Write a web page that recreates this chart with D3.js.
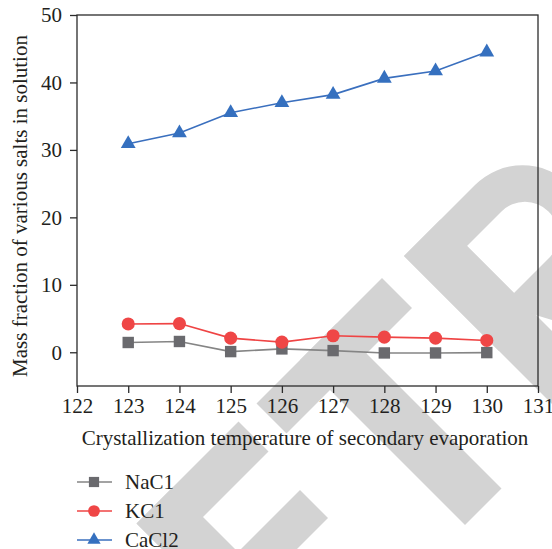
<!DOCTYPE html>
<html>
<head>
<meta charset="utf-8" />
<script src="https://d3js.org/d3.v7.min.js"></script>
<style>
  body { margin: 0; background: #fff; }
</style>
</head>
<body>
<div id="chart"></div>
<script>
// data
var temps = [123, 124, 125, 126, 127, 128, 129, 130];
var nacl = [1.45, 1.6, 0.1, 0.5, 0.25, -0.1, -0.1, -0.05];
var kcl = [4.2, 4.25, 2.1, 1.5, 2.45, 2.25, 2.1, 1.75];
var cacl2 = [30.9, 32.5, 35.5, 37.0, 38.2, 40.6, 41.7, 44.5];
var seriesNames = ["NaC1", "KC1", "CaCl2"];
var xTicks = [122, 123, 124, 125, 126, 127, 128, 129, 130, 131];
var yTicks = [0, 10, 20, 30, 40, 50];

var W = 552, H = 549;
var margin = {top: 15, right: 14, bottom: 163, left: 77};
var serif = "Liberation Serif";
var textColor = "#231f20";

var svg = d3.select("#chart").append("svg")
  .attr("width", W).attr("height", H);

// watermark letters (E T R), drawn in a rotated letter frame
var wm = svg.append("g")
  .attr("transform", "matrix(0.5,-0.5,0.5,0.5,0,0)")
  .attr("fill", "#d3d3d3");
var rects = [
  [-387, 660, 73, 330], [-387, 660, 204, 60], [-387, 790, 197, 56], [-387, 930, 204, 60], // E
  [-147, 660, 251, 60], [-60, 660, 73, 330],                                             // T
  [148, 660, 73, 330]                                                                     // R stem
];
wm.selectAll("rect").data(rects).enter().append("rect")
  .attr("x", function(d) { return d[0]; })
  .attr("y", function(d) { return d[1]; })
  .attr("width", function(d) { return d[2]; })
  .attr("height", function(d) { return d[3]; });
wm.append("path")
  .attr("fill-rule", "evenodd")
  .attr("d", "M148,660 H290 A95,95 0 0 1 290,850 H148 Z M221,713 H290 A47,47 0 0 1 290,807 H221 Z");
wm.append("path")
  .attr("d", "M215,840 L300,840 L380,990 L295,990 Z");

var x = d3.scaleLinear().domain([122, 131]).range([margin.left, W - margin.right]);
var y = d3.scaleLinear().domain([-5, 50]).range([H - margin.bottom, margin.top]);

var axisColor = "#2b2b2b";

// frame
svg.append("rect")
  .attr("x", x(122)).attr("y", y(50))
  .attr("width", x(131) - x(122)).attr("height", y(-5) - y(50))
  .attr("fill", "none").attr("stroke", axisColor).attr("stroke-width", 1.3);

// x axis: major + minor ticks
var xAxis = svg.append("g").attr("transform", "translate(0," + y(-5) + ")");
xAxis.call(d3.axisBottom(x).tickValues(d3.range(122.5, 131, 1)).tickSize(4).tickFormat(""));
xAxis.call(d3.axisBottom(x).tickValues(xTicks).tickSize(7).tickPadding(5).tickFormat(d3.format("d")));
xAxis.attr("font-family", serif).attr("font-size", 21);
xAxis.selectAll(".domain").remove();
xAxis.selectAll("line").attr("stroke", axisColor).attr("stroke-width", 1.3);
xAxis.selectAll("text").attr("fill", textColor);

// y axis
var yAxis = svg.append("g").attr("transform", "translate(" + x(122) + ",0)");
yAxis.call(d3.axisLeft(y).tickValues([-5, 5, 15, 25, 35, 45]).tickSize(4).tickFormat(""));
yAxis.call(d3.axisLeft(y).tickValues(yTicks).tickSize(7).tickPadding(8).tickFormat(d3.format("d")));
yAxis.attr("font-family", serif).attr("font-size", 21);
yAxis.selectAll(".domain").remove();
yAxis.selectAll("line").attr("stroke", axisColor).attr("stroke-width", 1.3);
yAxis.selectAll("text").attr("fill", textColor);

// axis titles
svg.append("text")
  .attr("x", 305).attr("y", 445)
  .attr("text-anchor", "middle")
  .attr("font-family", serif).attr("font-size", 21).attr("fill", textColor)
  .text("Crystallization temperature of secondary evaporation");
svg.append("text")
  .attr("transform", "translate(27,206) rotate(-90)")
  .attr("text-anchor", "middle")
  .attr("font-family", serif).attr("font-size", 21).attr("fill", textColor)
  .text("Mass fraction of various salts in solution");

var series = [
  {name: seriesNames[0], values: nacl, line: "#858585", fill: "#6a6a6e", shape: d3.symbolSquare, size: 130},
  {name: seriesNames[1], values: kcl, line: "#ef4444", fill: "#ef4646", shape: d3.symbolCircle, size: 135},
  {name: seriesNames[2], values: cacl2, line: "#3a6fbe", fill: "#3570bf", shape: d3.symbolTriangle, size: 95}
];

var line = d3.line()
  .x(function(d, i) { return x(temps[i]); })
  .y(function(d) { return y(d); });

series.forEach(function(s) {
  svg.append("path")
    .attr("d", line(s.values))
    .attr("fill", "none")
    .attr("stroke", s.line)
    .attr("stroke-width", 1.6);
  svg.append("g").selectAll("path")
    .data(s.values).enter().append("path")
    .attr("d", d3.symbol().type(s.shape).size(s.size))
    .attr("transform", function(d, i) { return "translate(" + x(temps[i]) + "," + y(d) + ")"; })
    .attr("fill", s.fill);
});

// legend
var legend = svg.append("g");
series.forEach(function(s, i) {
  var ly = 482 + i * 29;
  legend.append("line")
    .attr("x1", 77).attr("x2", 112).attr("y1", ly).attr("y2", ly)
    .attr("stroke", s.line).attr("stroke-width", 1.6);
  legend.append("path")
    .attr("d", d3.symbol().type(s.shape).size(s.size * 0.8))
    .attr("transform", "translate(94," + ly + ")")
    .attr("fill", s.fill);
  legend.append("text")
    .attr("x", 125).attr("y", ly + 7)
    .attr("font-family", serif).attr("font-size", 21).attr("fill", textColor)
    .text(s.name);
});
</script>
</body>
</html>
